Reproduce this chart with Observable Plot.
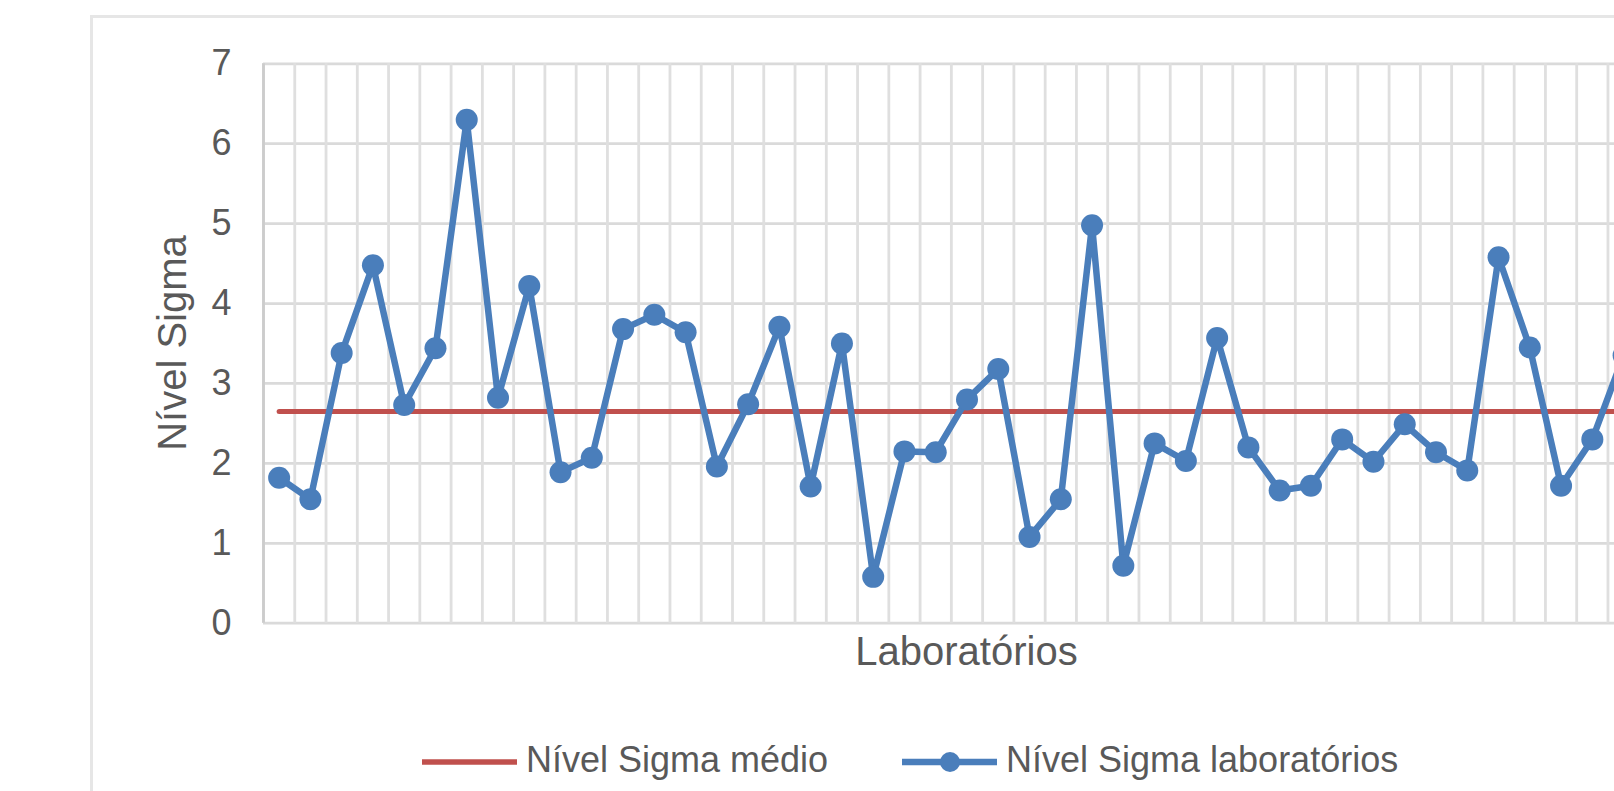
<!DOCTYPE html>
<html lang="pt">
<head>
<meta charset="utf-8">
<script src="https://cdn.jsdelivr.net/npm/d3@7"></script>
<script src="https://cdn.jsdelivr.net/npm/@observablehq/plot@0.6"></script>
<style>
  html, body { margin: 0; padding: 0; background: #fff; }
  body {
    width: 1614px; height: 791px; overflow: hidden; position: relative;
    font-family: "Liberation Sans", Arial, sans-serif; color: #595959;
  }
  #frame {
    position: absolute; left: 90px; top: 15px; width: 1760px; height: 900px;
    border: 3px solid #e6e6e6; box-sizing: border-box;
  }
  #chart { position: absolute; left: 0; top: 0; width: 1700px; }
  #chart svg { max-width: none !important; }
  .xtitle {
    position: absolute; left: 263px; width: 1407px; top: 631px;
    font-size: 40px; line-height: 40px; text-align: center; white-space: nowrap;
  }
  .ytitle {
    position: absolute; left: 22px; top: 323px; width: 300px; height: 40px;
    font-size: 40px; line-height: 40px; text-align: center; white-space: nowrap;
    transform: rotate(-90deg);
  }
  .legend-item {
    position: absolute; top: 742px; display: flex; align-items: center;
    font-size: 36px; line-height: 36px; white-space: nowrap;
  }
  .legend-item svg { display: block; margin-right: 9px; }
</style>
</head>
<body>
<div id="frame"></div>
<div id="chart"></div>
<div class="xtitle">Laboratórios</div>
<div class="ytitle">Nível Sigma</div>
<div class="legend-item" id="leg-mean" style="left:422px"></div>
<div class="legend-item" id="leg-labs" style="left:902px"></div>
<script>
// Sigma level of each laboratory, in order
const labs = d3.range(1, 46);
const sigma = [
  1.82, 1.55, 3.38, 4.48, 2.73, 3.44, 6.30, 2.82, 4.22, 1.89,
  2.07, 3.68, 3.86, 3.64, 1.96, 2.74, 3.71, 1.71, 3.50, 0.58,
  2.15, 2.14, 2.80, 3.18, 1.08, 1.55, 4.98, 0.72, 2.25, 2.03,
  3.57, 2.20, 1.66, 1.72, 2.30, 2.02, 2.49, 2.14, 1.91, 4.58,
  3.45, 1.72, 2.30, 3.35, 0.90
];
// Mean sigma level across all laboratories
const sigmaMean = 2.65;
const yTicks = [0, 1, 2, 3, 4, 5, 6, 7];

const seriesNames = ["Nível Sigma médio", "Nível Sigma laboratórios"];
const seriesColors = ["#c0504d", "#4a7ebb"];

const rows = labs.map((lab, i) => ({lab, sigma: sigma[i]}));
const meanRows = labs.map(lab => ({lab, sigma: sigmaMean}));
// category boundaries, where the vertical gridlines sit
const boundaries = [...labs.map(l => l - 0.5), labs[labs.length - 1] + 0.5];

const chart = Plot.plot({
  width: 1700,
  height: 700,
  marginLeft: 263,
  marginRight: 30,
  marginTop: 63.3,
  marginBottom: 77.3,
  x: {domain: [labs[0] - 0.5, labs[labs.length - 1] + 0.5], axis: null},
  y: {domain: [0, 7], axis: null},
  style: {
    fontFamily: "'Liberation Sans', Arial, sans-serif",
    color: "#595959",
    background: "transparent",
    overflow: "visible"
  },
  marks: [
    Plot.ruleY(yTicks, {stroke: "#dadada", strokeWidth: 2.8}),
    Plot.ruleX(boundaries, {stroke: "#dfdfdf", strokeWidth: 2.8}),
    Plot.ruleX([boundaries[0]], {stroke: "#cccccc", strokeWidth: 2.8}),
    Plot.axisY({
      ticks: yTicks, tickSize: 0, tickPadding: 32, fontSize: 36,
      tickFormat: d3.format("d"), fill: "#595959", label: null
    }),
    Plot.line(meanRows, {x: "lab", y: "sigma", stroke: seriesColors[0], strokeWidth: 5}),
    Plot.line(rows, {x: "lab", y: "sigma", stroke: seriesColors[1], strokeWidth: 6.5, strokeLinejoin: "round"}),
    Plot.dot(rows, {x: "lab", y: "sigma", r: 11, fill: seriesColors[1]})
  ]
});
document.getElementById("chart").append(chart);

// legend swatches
function swatch(color, withDot) {
  const ns = "http://www.w3.org/2000/svg";
  const svg = document.createElementNS(ns, "svg");
  svg.setAttribute("width", 95);
  svg.setAttribute("height", 36);
  const line = document.createElementNS(ns, "line");
  line.setAttribute("x1", 0); line.setAttribute("x2", 95);
  line.setAttribute("y1", 20); line.setAttribute("y2", 20);
  line.setAttribute("stroke", color);
  line.setAttribute("stroke-width", withDot ? 6.5 : 5.5);
  svg.append(line);
  if (withDot) {
    const c = document.createElementNS(ns, "circle");
    c.setAttribute("cx", 48); c.setAttribute("cy", 20); c.setAttribute("r", 10);
    c.setAttribute("fill", color);
    svg.append(c);
  }
  return svg;
}
const legMean = document.getElementById("leg-mean");
legMean.append(swatch(seriesColors[0], false), document.createTextNode(seriesNames[0]));
const legLabs = document.getElementById("leg-labs");
legLabs.append(swatch(seriesColors[1], true), document.createTextNode(seriesNames[1]));
</script>
</body>
</html>
